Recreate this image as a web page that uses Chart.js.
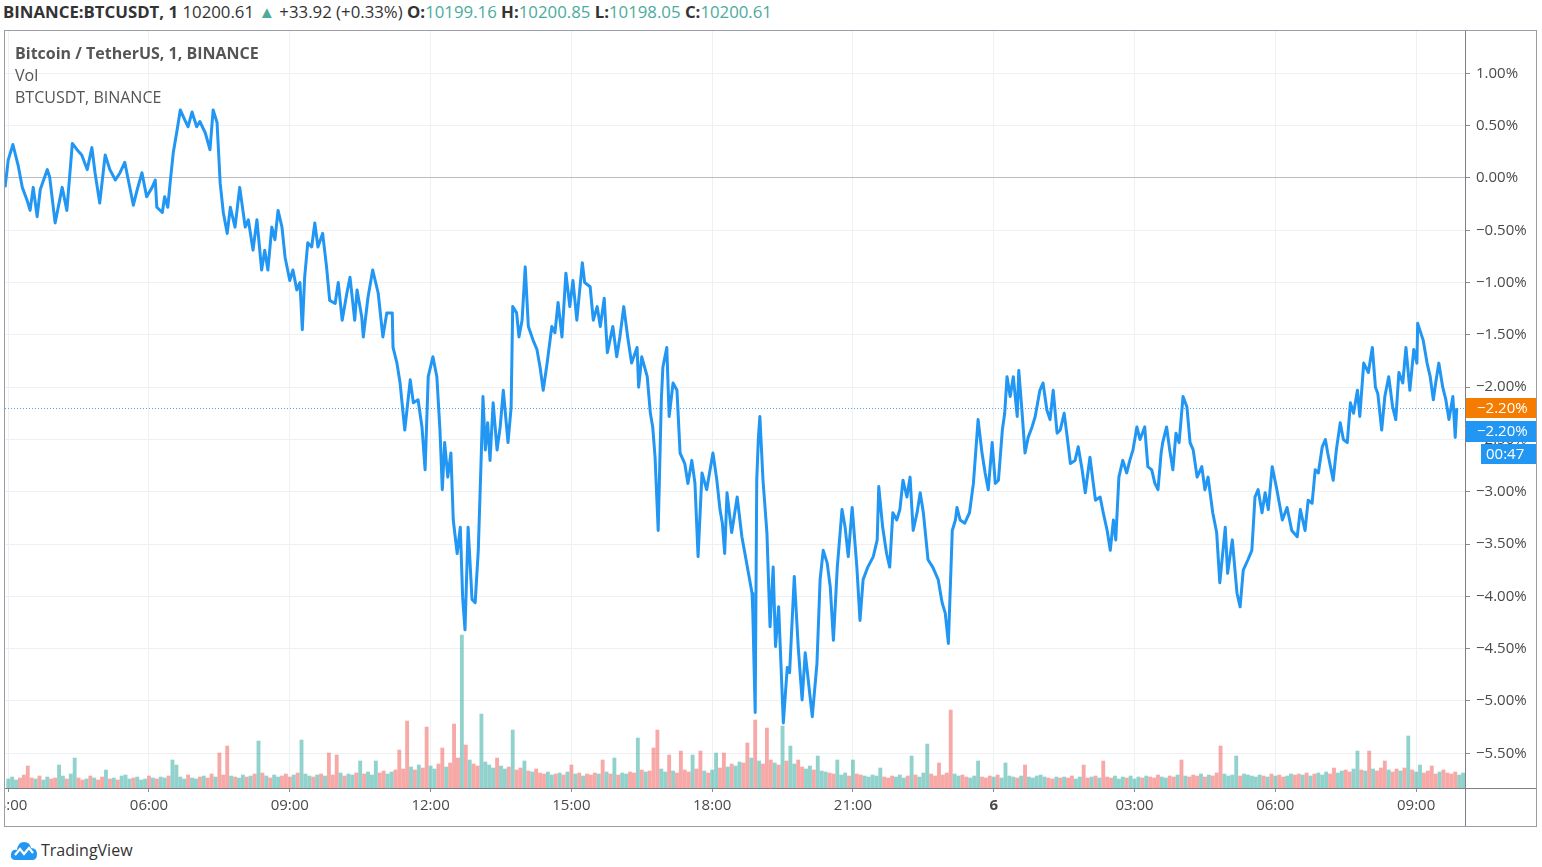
<!DOCTYPE html>
<html lang="en">

<head>
  <meta charset="UTF-8">
  <title>BTCUSDT, 1 - Binance</title>
  <script src="https://cdn.jsdelivr.net/npm/chart.js"></script>
  <style>
    body {
      margin: 0;
      width: 1542px;
      height: 867px;
      overflow: hidden;
      position: relative;
      background: #fff;
      font-family: 'Open Sans', Arial, sans-serif;
      color: #4a4a4a;
    }

    .top-line {
      position: absolute;
      left: 3px;
      top: 2px;
      font-size: 16.8px;
      line-height: 20px;
      white-space: nowrap;
      color: #333;
    }

    .top-line .up {
      color: #4bab9c;
    }

    .frame {
      position: absolute;
      left: 4px;
      top: 30px;
      width: 1531px;
      height: 795px;
      border: 1px solid #9a9da5;
    }

    .frame canvas {
      position: absolute;
      left: 0;
      top: 0;
    }

    .legend {
      position: absolute;
      left: 15px;
      font-size: 16px;
      line-height: 20px;
      color: #555;
      white-space: nowrap;
    }

    .logo {
      position: absolute;
      left: 10px;
      top: 839px;
      display: flex;
      align-items: center;
      font-size: 16px;
      color: #333;
    }

    .logo svg {
      margin-right: 3px;
    }
  </style>
</head>

<body>
  <div class="top-line"><b>BINANCE:BTCUSDT, 1</b> 10200.61 <span class="up">&#9650;</span> +33.92 (+0.33%) <b>O:</b><span class="up">10199.16</span> <b>H:</b><span class="up">10200.85</span> <b>L:</b><span class="up">10198.05</span> <b>C:</b><span class="up">10200.61</span></div>

  <div class="frame">
    <canvas id="btcChart" width="1531" height="795"></canvas>
  </div>

  <div class="legend" style="top:43px"><b>Bitcoin / TetherUS, 1, BINANCE</b></div>
  <div class="legend" style="top:65px">Vol</div>
  <div class="legend" style="top:87px">BTCUSDT, BINANCE</div>

  <div class="logo">
    <svg width="28" height="22" viewBox="0 0 28 22">
      <path d="M6 21 Q0 21 1 15 Q2 10 7 11 Q8 3 14 3 Q20 3 21 9 Q27 9 27 15 Q27 21 22 21 Z" fill="#2196f3" />
      <polyline points="5,16 10,10 14,15 19,9 23,14" fill="none" stroke="#fff" stroke-width="2.2" />
    </svg>
    <span>TradingView</span>
  </div>

  <script>
    // [minutes since 03:00, change in %]
    const btcChange = [
      [-4, -0.09], [0, 0.17], [6, 0.32], [13, 0.11], [18, -0.09], [24, -0.21], [28, -0.31], [32, -0.09], [37, -0.37], [41, -0.11],
      [50, 0.08], [53, 0.01], [60, -0.43], [69, -0.09], [75, -0.31], [82, 0.33], [88, 0.27], [94, 0.22], [101, 0.08], [107, 0.29],
      [111, 0.05], [117, -0.24], [124, 0.22], [130, 0.08], [137, -0.02], [143, 0.05], [149, 0.15], [156, -0.11], [160, -0.26], [165, -0.11],
      [171, 0.05], [177, -0.18], [184, -0.09], [188, -0.02], [190, -0.28], [197, -0.33], [200, -0.18], [204, -0.28], [207, -0.05], [211, 0.24],
      [216, 0.46], [220, 0.65], [226, 0.55], [230, 0.49], [235, 0.63], [241, 0.49], [245, 0.54], [252, 0.43], [258, 0.27], [262, 0.65],
      [267, 0.53], [271, -0.05], [275, -0.33], [280, -0.53], [284, -0.28], [290, -0.47], [296, -0.09], [303, -0.47],
      [307, -0.40], [313, -0.69], [318, -0.40], [324, -0.88], [328, -0.69], [332, -0.88], [337, -0.47], [341, -0.59], [345, -0.31], [350, -0.47],
      [354, -0.76], [360, -0.98], [364, -0.88], [369, -1.07], [373, -1.00], [376, -1.45], [379, -0.95], [383, -0.62], [388, -0.66], [392, -0.43],
      [396, -0.66], [402, -0.53], [407, -0.85], [411, -1.17], [418, -1.20], [422, -1.00], [427, -1.36], [433, -1.10], [437, -0.95], [443, -1.36],
      [446, -1.07], [452, -1.33], [454, -1.52], [460, -1.14], [466, -0.88], [473, -1.10], [479, -1.52], [484, -1.29], [491, -1.29], [492, -1.62],
      [497, -1.77], [501, -1.96], [507, -2.41], [514, -1.93], [518, -2.15], [524, -2.12], [529, -2.38], [533, -2.79], [537, -1.90], [543, -1.71],
      [548, -1.90], [552, -2.41], [555, -2.98], [558, -2.53], [562, -2.86], [566, -2.63], [569, -3.27], [574, -3.59], [578, -3.34], [581, -4.01],
      [584, -4.32], [588, -3.34], [593, -4.03], [597, -4.06], [601, -3.56], [605, -2.60], [607, -2.09],
      [610, -2.60], [613, -2.34], [616, -2.70], [620, -2.15], [625, -2.60], [629, -2.38], [633, -2.03], [639, -2.53], [643, -2.19], [645, -1.23],
      [650, -1.29], [653, -1.52], [657, -1.36], [661, -0.85], [665, -1.42], [671, -1.55], [676, -1.64], [680, -1.81], [684, -2.03], [689, -1.77],
      [695, -1.42], [699, -1.48], [703, -1.19], [708, -1.52], [713, -0.91], [718, -1.23], [722, -0.98], [727, -1.36], [734, -0.81], [737, -1.00],
      [744, -1.04], [748, -1.36], [753, -1.23], [757, -1.42], [762, -1.15], [766, -1.67], [773, -1.42], [778, -1.71], [782, -1.52], [787, -1.23],
      [792, -1.52], [797, -1.77], [804, -1.62], [806, -2.00], [810, -1.71], [817, -1.90], [821, -2.25], [824, -2.38], [827, -2.67], [831, -3.37],
      [835, -2.12], [837, -1.81], [842, -1.62], [845, -2.28], [850, -1.96], [855, -2.03], [859, -2.63], [865, -2.73], [869, -2.92], [874, -2.70],
      [878, -2.92], [882, -3.62], [887, -2.82], [893, -2.98], [901, -2.63], [906, -2.89],
      [910, -3.17], [913, -3.30], [916, -3.59], [919, -3.01], [925, -3.39], [932, -3.05], [938, -3.43], [945, -3.72], [951, -3.97], [952, -4.16],
      [955, -5.11], [957, -2.89], [959, -2.50], [961, -2.28], [965, -2.89], [970, -3.39], [974, -4.29], [978, -3.72], [981, -4.48], [985, -4.10],
      [991, -5.21], [996, -4.68], [999, -4.73], [1005, -3.81], [1010, -4.48], [1015, -4.99], [1019, -4.54], [1028, -5.15], [1034, -4.64], [1038, -3.84],
      [1042, -3.56], [1047, -3.68], [1051, -3.91], [1055, -4.42], [1060, -3.72], [1066, -3.17], [1070, -3.34], [1074, -3.62], [1079, -3.15], [1085, -3.72],
      [1089, -4.23], [1093, -3.84], [1099, -3.72], [1106, -3.62], [1111, -3.46], [1113, -2.95], [1118, -3.34], [1123, -3.59], [1127, -3.72], [1131, -3.20],
      [1136, -3.27], [1140, -3.17], [1144, -2.89], [1149, -3.05], [1153, -2.86], [1157, -3.37], [1162, -3.20], [1166, -3.01], [1170, -3.20], [1176, -3.65],
      [1182, -3.72], [1189, -3.84], [1194, -4.06], [1198, -4.16], [1202, -4.45], [1207, -3.37], [1211, -3.27], [1213, -3.15], [1217, -3.27], [1223, -3.30],
      [1229, -3.20],
      [1234, -2.92], [1240, -2.31], [1245, -2.63], [1249, -2.82], [1253, -2.98], [1258, -2.53], [1262, -2.92], [1266, -2.89], [1271, -2.41], [1274, -2.25],
      [1277, -1.90], [1281, -2.09], [1285, -1.90], [1290, -2.28], [1292, -1.84], [1296, -2.22], [1300, -2.63], [1304, -2.48], [1309, -2.38], [1313, -2.28],
      [1319, -2.03], [1323, -1.96], [1328, -2.22], [1332, -2.31], [1336, -2.03], [1341, -2.44], [1345, -2.41], [1350, -2.25], [1354, -2.48], [1358, -2.73],
      [1364, -2.70], [1368, -2.57], [1373, -2.79], [1377, -3.01], [1383, -2.67], [1390, -3.08], [1396, -3.05], [1400, -3.20], [1405, -3.37], [1409, -3.56],
      [1413, -3.27], [1416, -3.46], [1420, -2.86], [1425, -2.70], [1430, -2.82], [1434, -2.70], [1438, -2.60], [1443, -2.38], [1447, -2.50], [1453, -2.38],
      [1457, -2.76], [1462, -2.79], [1466, -2.92], [1470, -2.98], [1474, -2.63], [1476, -2.53], [1481, -2.38], [1485, -2.60], [1489, -2.79], [1493, -2.44],
      [1497, -2.53], [1502, -2.09], [1507, -2.19], [1511, -2.53], [1515, -2.60], [1520, -2.86], [1526, -2.76], [1530, -2.98], [1534, -2.86],
      [1540, -3.20], [1545, -3.39], [1549, -3.87], [1556, -3.34], [1559, -3.78], [1565, -3.46], [1571, -3.97], [1575, -4.10], [1579, -3.75], [1585, -3.65],
      [1590, -3.56], [1594, -3.05], [1598, -2.98], [1603, -3.20], [1607, -3.01], [1611, -3.17], [1616, -2.76], [1622, -2.98], [1629, -3.27], [1635, -3.15],
      [1641, -3.37], [1648, -3.43], [1652, -3.17], [1658, -3.37], [1662, -3.08], [1667, -3.11], [1671, -2.79], [1675, -2.82], [1680, -2.57], [1684, -2.50],
      [1687, -2.63], [1694, -2.89], [1698, -2.60], [1703, -2.34], [1707, -2.50], [1712, -2.53], [1716, -2.15], [1720, -2.25], [1725, -2.03], [1728, -2.28],
      [1733, -1.77], [1739, -1.86], [1744, -1.62], [1748, -2.00], [1751, -2.06], [1756, -2.41], [1760, -2.09], [1765, -1.90], [1770, -2.19], [1774, -2.31],
      [1778, -1.86], [1783, -1.96], [1787, -1.62], [1792, -2.03], [1797, -1.64], [1801, -1.77], [1802, -1.39], [1809, -1.55], [1814, -1.77], [1818, -1.90],
      [1822, -2.12], [1825, -1.96], [1829, -1.77], [1834, -2.00], [1838, -2.12], [1842, -2.31], [1847, -2.09], [1850, -2.48], [1852, -2.20]
    ];

    // volume, one bar per 5 minutes starting 03:00
    const volStep = 5;
    const volume = [
      36, 44, 32, 40, 52, 88, 40, 36, 48, 32,
      44, 36, 40, 92, 48, 36, 56, 120, 40, 32,
      36, 48, 40, 32, 44, 72, 36, 40, 32, 48,
      52, 36, 40, 44, 32, 36, 48, 40, 36, 44,
      40, 48, 112, 92, 44, 36, 52, 40, 36, 44,
      48, 40, 56, 44, 140, 52, 168, 48, 44, 40,
      52, 44, 48, 56, 188, 60, 48, 40, 52, 44,
      48, 56, 44, 52, 60, 192, 56, 48, 44, 52,
      56, 48, 140, 52, 132, 60, 48, 56, 52, 60,
      108, 56, 64, 52, 108, 60, 68, 56, 64, 72,
      152, 76, 268, 84, 72, 92, 80, 244, 88, 76,
      96, 160, 84, 100, 256, 120, 612, 172, 112, 96,
      88, 296, 104, 92, 80, 120, 88, 76, 84, 232,
      72, 80, 108, 68, 64, 76, 60, 56, 64, 52,
      56, 60, 52, 64, 92, 56, 60, 48, 56, 52,
      60, 56, 112, 64, 56, 120, 52, 60, 56, 64,
      60, 200, 72, 64, 68, 160, 232, 76, 64, 132,
      68, 60, 148, 72, 64, 132, 76, 148, 68, 60,
      72, 140, 80, 140, 84, 96, 88, 104, 100, 180,
      120, 272, 108, 96, 240, 112, 100, 92, 248, 108,
      168, 96, 112, 84, 76, 88, 72, 128, 68, 64,
      60, 56, 112, 52, 60, 48, 112, 56, 52, 48,
      44, 52, 48, 80, 44, 40, 48, 44, 52, 40,
      48, 128, 52, 44, 60, 176, 56, 48, 100, 52,
      60, 312, 56, 48, 52, 44, 40, 48, 108, 44,
      40, 48, 44, 52, 40, 100, 48, 44, 40, 48,
      92, 44, 40, 48, 52, 44, 40, 36, 44, 40,
      44, 40, 48, 36, 44, 92, 40, 44, 48, 40,
      108, 44, 40, 48, 36, 44, 40, 48, 36, 44,
      40, 48, 44, 40, 52, 44, 40, 48, 44, 52,
      112, 48, 44, 52, 48, 56, 44, 52, 48, 60,
      168, 56, 48, 52, 128, 48, 56, 52, 48, 44,
      52, 48, 44, 56, 48, 52, 44, 48, 56, 52,
      56, 52, 60, 48, 56, 60, 52, 64, 56, 80,
      60, 68, 72, 64, 76, 148, 72, 68, 148, 76,
      68, 80, 108, 72, 64, 76, 68, 80, 208, 72,
      64, 92, 60, 68, 88, 56, 64, 72, 60, 56,
      64, 52, 60
    ];

    const xTickMinutes = [0, 180, 360, 540, 720, 900, 1080, 1260, 1440, 1620, 1800];
    const xTickLabels = ['03:00', '06:00', '09:00', '12:00', '15:00', '18:00', '21:00', '6', '03:00', '06:00', '09:00'];
    const yTickValues = [1, 0.5, 0, -0.5, -1, -1.5, -2, -2.5, -3, -3.5, -4, -4.5, -5, -5.5];
    const countdown = '00:47';

    const lastChange = btcChange[btcChange.length - 1][1];

    function fmtPct(v) {
      const s = Math.abs(v).toFixed(2) + '%';
      return v < 0 ? '\u2212' + s : s;
    }

    // colour each volume bar by the direction of the price over its interval
    function changeAt(t) {
      let v = btcChange[0][1];
      for (const p of btcChange) {
        if (p[0] <= t) v = p[1];
        else break;
      }
      return v;
    }
    const volColors = volume.map((v, i) =>
      changeAt(i * volStep) >= changeAt(i * volStep - volStep) ? 'rgba(38,166,154,0.5)' : 'rgba(239,83,80,0.5)');

    const axisPlugin = {
      id: 'axisLines',
      beforeDatasetsDraw(chart) {
        const { ctx, chartArea: a, scales: { y } } = chart;
        const py = Math.round(y.getPixelForValue(lastChange)) + 0.5;
        ctx.save();
        ctx.strokeStyle = 'rgba(33,150,243,0.8)';
        ctx.lineWidth = 1;
        ctx.setLineDash([1, 2]);
        ctx.beginPath();
        ctx.moveTo(a.left, py);
        ctx.lineTo(a.right, py);
        ctx.stroke();
        ctx.restore();
      },
      afterDraw(chart) {
        const { ctx, chartArea: a, scales: { y } } = chart;
        ctx.save();
        ctx.strokeStyle = '#7d8089';
        ctx.lineWidth = 1;
        ctx.beginPath();
        ctx.moveTo(a.right + 0.5, 0);
        ctx.lineTo(a.right + 0.5, chart.height);
        ctx.moveTo(0, a.bottom + 0.5);
        ctx.lineTo(chart.width, a.bottom + 0.5);
        ctx.stroke();

        const py = Math.round(y.getPixelForValue(lastChange));
        const w = chart.width - a.right - 1;
        ctx.font = '15px "Open Sans", Arial, sans-serif';
        ctx.textBaseline = 'middle';
        ctx.textAlign = 'left';

        ctx.fillStyle = '#f57c00';
        ctx.fillRect(a.right + 1, py - 10, w, 20);
        ctx.fillStyle = '#fff';
        ctx.fillText(fmtPct(lastChange), a.right + 12, py + 1);

        ctx.fillStyle = '#2196f3';
        ctx.fillRect(a.right + 1, py + 13, w, 21);
        ctx.fillStyle = '#fff';
        ctx.fillText(fmtPct(lastChange), a.right + 12, py + 24);

        ctx.fillStyle = '#2196f3';
        ctx.fillRect(a.right + 16, py + 36, w - 15, 20);
        ctx.fillStyle = '#fff';
        ctx.fillText(countdown, a.right + 21, py + 47);
        ctx.restore();
      }
    };

    const ctx = document.getElementById('btcChart').getContext('2d');
    new Chart(ctx, {
      data: {
        datasets: [{
          type: 'line',
          label: 'BTCUSDT',
          data: btcChange.map(p => ({ x: p[0], y: p[1] })),
          yAxisID: 'y',
          borderColor: '#2196f3',
          borderWidth: 3,
          borderJoinStyle: 'round',
          pointRadius: 0,
          tension: 0,
          order: 0
        }, {
          type: 'bar',
          label: 'Vol',
          data: volume.map((v, i) => ({ x: i * volStep, y: v })),
          yAxisID: 'vol',
          backgroundColor: volColors,
          barThickness: 3.2,
          order: 1
        }]
      },
      options: {
        responsive: false,
        animation: false,
        events: [],
        layout: { padding: 0, autoPadding: false },
        plugins: {
          legend: { display: false },
          tooltip: { enabled: false }
        },
        scales: {
          x: {
            type: 'linear',
            offset: false,
            min: -4.1,
            max: 1862.5,
            afterBuildTicks: s => { s.ticks = xTickMinutes.map(v => ({ value: v })); },
            afterFit: s => { s.height = 38; s.paddingLeft = 0; s.paddingRight = 0; },
            ticks: {
              autoSkip: false,
              maxRotation: 0,
              padding: 5,
              color: '#4a4a4a',
              font: c => ({
                family: '"Open Sans", Arial, sans-serif',
                size: 15,
                weight: c.tick && c.tick.value === 1260 ? 'bold' : 'normal'
              }),
              callback: (v, i) => xTickLabels[i]
            },
            grid: { offset: false, color: '#eef0f3', tickColor: '#8a8d96', tickLength: 4 },
            border: { display: false }
          },
          y: {
            position: 'right',
            min: -5.832,
            max: 1.405,
            afterBuildTicks: s => { s.ticks = yTickValues.map(v => ({ value: v })); },
            afterFit: s => { s.width = 71; s.paddingTop = 0; s.paddingBottom = 0; },
            ticks: {
              padding: 6,
              color: '#4a4a4a',
              font: { family: '"Open Sans", Arial, sans-serif', size: 15 },
              callback: v => fmtPct(v)
            },
            grid: {
              color: c => c.tick && c.tick.value === 0 ? '#b9bcc3' : '#eef0f3',
              tickColor: '#8a8d96',
              tickLength: 5
            },
            border: { display: false }
          },
          vol: {
            display: false,
            min: 0,
            max: 3030
          }
        }
      },
      plugins: [axisPlugin]
    });
  </script>
</body>

</html>
